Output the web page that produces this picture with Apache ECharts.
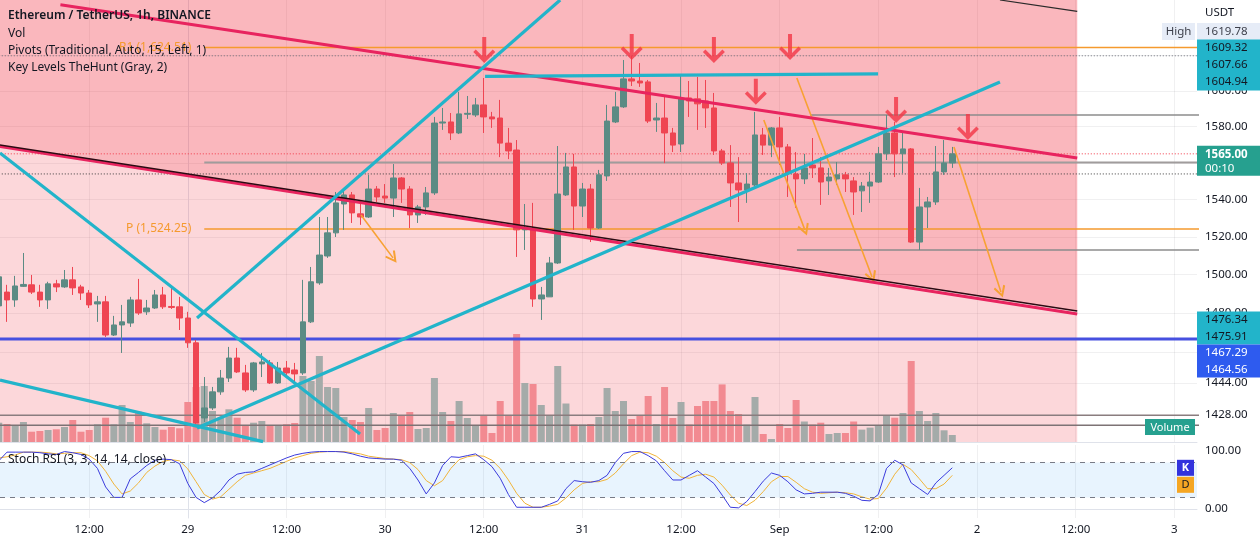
<!DOCTYPE html>
<html><head><meta charset="utf-8">
<script src="https://cdn.jsdelivr.net/npm/echarts@6/dist/echarts.min.js"></script>
<style>html,body{margin:0;padding:0;background:#fff}#c{width:1260px;height:543px}</style>
</head><body><div id="c"></div>
<script>
// ---------- DATA (hours counted from Aug 29 00:00; first candle = Aug 28 01:00) ----------
const firstHour = -23;
const opens = [1483.7,1490.9,1486.8,1493.9,1494.7,1490.9,1486.8,1495.2,1493.6,1497.3,
1493.6,1490.4,1484.7,1485.8,1468.6,1473.8,1474.8,1486.8,1480.6,1482.6,
1489.4,1483.4,1483.2,1477.4,1464.6,1426.5,1431.5,1439.6,1446.6,1456.8,
1449.2,1440.6,1453.8,1454.3,1444.1,1451.7,1450.7,1449.2,1475.4,1495.7,
1509.9,1522.2,1537.7,1542.6,1532.4,1530.7,1545.8,1542.0,1540.9,1551.8,
1545.8,1531.8,1536.1,1543.7,1582.0,1582.6,1576.5,1586.9,1586.5,1592.1,
1585.4,1584.8,1570.9,1567.1,1523.8,1524.3,1487.3,1488.4,1506.2,1542.6,
1557.8,1536.6,1545.8,1524.8,1552.9,1582.6,1591.0,1606.7,1605.5,1605.0,
1583.7,1584.8,1576.5,1570.4,1596.0,1595.5,1594.3,1590.4,1566.6,1560.0,
1549.1,1545.3,1548.0,1575.4,1569.8,1579.3,1568.8,1554.0,1551.3,1558.9,
1557.3,1550.2,1551.3,1553.5,1550.2,1544.8,1547.4,1549.6,1565.0,1576.5,
1565.0,1567.7,1517.3,1536.1,1538.8,1555.1,1560.0];
const closes = [1498.9,1486.8,1494.1,1494.9,1490.9,1486.8,1495.2,1493.6,1497.3,1493.1,
1490.4,1484.2,1485.8,1468.6,1473.8,1475.4,1486.8,1480.0,1482.6,1489.4,
1483.2,1482.9,1477.4,1464.6,1424.0,1431.5,1439.6,1446.6,1456.8,1449.7,
1440.6,1454.3,1454.8,1444.1,1451.7,1449.2,1448.7,1475.4,1496.3,1510.4,
1522.2,1538.3,1542.6,1532.9,1530.7,1545.8,1541.5,1540.9,1551.8,1545.8,
1531.8,1536.1,1543.7,1582.0,1582.6,1576.5,1587.1,1587.4,1592.1,1585.4,
1584.3,1570.9,1566.6,1523.8,1524.3,1487.3,1489.4,1506.2,1543.1,1557.8,
1536.6,1545.8,1524.8,1553.5,1583.1,1591.0,1606.7,1605.5,1604.4,1583.1,
1584.8,1576.5,1569.8,1595.5,1594.3,1592.7,1590.4,1566.6,1560.0,1549.1,
1545.3,1548.5,1575.4,1569.8,1579.3,1568.8,1554.5,1551.3,1557.3,1557.3,
1549.6,1552.3,1553.5,1551.3,1544.2,1547.4,1549.6,1565.0,1576.5,1565.0,
1567.7,1517.3,1536.1,1538.8,1555.1,1560.0,1565.0];
const highs = [1499.9,1494.7,1499.4,1511.5,1499.9,1494.7,1496.3,1497.3,1502.5,1504.1,
1494.7,1492.0,1488.9,1488.9,1478.5,1484.2,1488.4,1497.8,1486.8,1492.0,
1493.6,1493.1,1488.4,1480.6,1466.1,1447.1,1442.1,1450.7,1462.5,1462.0,
1453.3,1454.8,1459.4,1455.8,1454.8,1455.3,1454.3,1497.3,1504.1,1530.7,
1530.7,1544.2,1545.3,1544.2,1538.3,1553.5,1547.4,1548.5,1559.4,1552.3,
1547.4,1537.2,1546.9,1585.4,1590.4,1587.6,1599.4,1597.1,1596.0,1607.2,
1588.2,1594.9,1579.3,1572.6,1537.7,1538.3,1493.6,1509.4,1569.3,1565.5,
1565.0,1549.1,1548.5,1556.2,1592.1,1599.4,1617.4,1619.78,1615.7,1606.1,
1593.2,1596.6,1579.3,1608.9,1605.5,1607.8,1606.1,1598.8,1567.7,1569.8,
1563.2,1554.5,1588.2,1579.3,1579.8,1585.4,1570.4,1566.0,1565.0,1573.7,
1563.2,1557.3,1560.5,1555.1,1552.3,1549.6,1555.1,1568.8,1586.5,1582.6,
1577.1,1568.2,1546.4,1541.5,1569.3,1572.6,1568.8];
const lows = [1482.6,1475.4,1483.2,1493.6,1489.9,1483.2,1482.1,1490.9,1493.1,1489.4,
1486.8,1482.6,1475.4,1467.6,1468.1,1459.4,1472.8,1479.0,1479.0,1482.1,
1482.1,1482.1,1471.2,1462.0,1422.0,1424.5,1430.5,1438.1,1444.6,1449.2,
1439.6,1439.6,1447.1,1443.6,1443.6,1447.1,1444.1,1448.2,1474.8,1494.7,
1508.9,1520.0,1523.8,1527.5,1526.5,1530.2,1538.8,1538.3,1530.7,1538.3,
1524.8,1527.5,1531.8,1542.6,1578.2,1572.6,1575.9,1584.3,1585.4,1576.5,
1579.3,1563.2,1562.1,1509.4,1513.1,1483.2,1476.4,1488.4,1505.7,1542.0,
1523.8,1530.7,1517.3,1524.3,1550.2,1582.0,1590.4,1602.7,1602.2,1582.0,
1577.1,1559.9,1566.0,1566.0,1585.4,1578.2,1579.3,1564.4,1558.9,1536.1,
1528.0,1538.3,1547.4,1564.4,1563.2,1558.9,1541.5,1535.6,1548.5,1551.8,
1537.2,1542.6,1548.0,1544.2,1531.8,1533.4,1538.3,1549.1,1561.6,1552.3,
1554.5,1516.8,1513.1,1524.8,1537.2,1553.5,1557.3];
const volumes = [1.93,1.8,1.6,2.0,1.03,1.1,1.2,1.27,1.5,2.2,
1.03,1.2,1.77,2.43,1.77,3.7,2.0,3.03,1.87,1.5,
1.23,1.5,1.37,4.0,5.5,5.6,3.1,2.43,3.27,2.43,
1.7,1.93,2.1,1.6,1.6,1.77,1.9,6.6,6.1,8.6,
5.5,5.4,2.5,2.2,2.0,3.4,1.2,1.4,2.9,2.6,
3.0,1.3,1.4,6.4,3.0,2.1,4.1,2.4,1.6,2.7,
0.9,4.1,2.6,10.8,5.9,5.8,3.7,2.7,7.6,3.85,
1.74,1.74,1.8,2.5,5.4,3.1,4.1,2.3,2.6,4.6,
1.8,5.5,2.4,4.0,1.74,3.6,4.1,4.1,5.76,3.1,
2.8,1.74,4.5,0.8,0.3,1.8,1.4,4.2,2.05,1.74,
1.93,0.8,0.9,0.9,2.05,1.24,1.44,1.7,2.7,2.43,
2.9,8.1,3.1,2.1,2.9,1.17,0.7];
const stochK = [83,98,98,98,98,97,95,94,99,97,
94,86,70,38,20,20,52,63,75,84,
86,85,78,44,20,11,19,32,50,60,
63,64,70,76,82,88,93,96,98,99,
99,99,98,95,91,88,87,86,86,84,
70,50,26,45,75,90,89,92,95,85,
73,53,25,3,3,3,3,8,14,35,
49,47,46,49,58,80,96,99,99,92,
83,66,50,50,58,66,55,44,24,3,
2,13,30,48,62,58,47,33,26,27,
29,29,29,27,22,15,14,25,70,84,
76,45,35,25,45,58,71];
const stochD = [88,90,93,98,98,98,97,95,96,97,
97,92,83,65,43,26,31,45,63,74,
82,85,83,69,47,25,17,21,34,47,
58,62,66,70,76,82,88,92,96,98,
99,99,99,97,95,91,89,87,86,85,
80,68,49,40,49,70,85,90,92,91,
84,70,50,27,10,3,3,5,8,19,
33,44,47,47,51,62,78,92,98,97,
91,80,66,55,53,58,60,55,41,24,
10,6,15,30,47,56,56,46,35,29,
27,28,29,28,26,21,17,18,36,60,
77,68,52,35,35,43,58];

// time axis ticks
const tickHours  = [-12, 0, 12, 24, 36, 48, 60, 72, 84, 96, 108, 120];
const tickLabels = ['12:00','29','12:00','30','12:00','31','12:00','Sep','12:00','2','12:00','3'];
// price axis ticks
const priceTicks = [1428, 1444, 1460, 1480, 1500, 1520, 1540, 1560, 1580, 1600, 1620];

// horizontal levels: price and start hour
const levelPrices = [1624.51, 1619.78, 1586.5, 1565.0, 1560.2, 1554.0, 1524.25, 1513.1, 1466.6, 1427.9, 1422.9];
const levelStarts = [2, -23, 75.7, -23, 2, -23, 2, 74.1, -23, -23, -23];

// drawings: [hour, price] pairs
const upperRedLine = [[-15.5, 1649.1], [108.2, 1562.7]];
const lowerPinkLine = [[-23, 1569.2], [108.2, 1479.5]];
const lowerDarkLine = [[-23, 1570.0], [108.2, 1481.0]];
const topRightLine = [[98.8, 1651.8], [108.2, 1645.2]];
const cyanLines = [
  [[1.12, 1477.4], [45.3, 1651.8]],
  [[1.12, 1421.5], [98.8, 1605.0]],
  [[-22.85, 1565.5], [20.95, 1418.5]],
  [[-22.85, 1445.6], [9.15, 1414.7]],
  [[36.16, 1608.1], [83.97, 1609.5]]
];
const orangeArrows = [
  [[21.07, 1531.8], [24.96, 1508.9]],
  [[70.07, 1583.7], [75.06, 1523.8]],
  [[74.09, 1607.2], [83.24, 1498.8]],
  [[93.2, 1568.8], [98.92, 1491.0]]
];
const redArrows = [[36.06, 1623.1], [54.0, 1624.8], [64.0, 1623.1], [73.26, 1624.8], [69.1, 1599.4], [86.16, 1589.3], [94.9, 1579.8]];
// shaded zones (polygons in hour/price)
const zoneRect = [[-23, 1400], [108.2, 1400], [108.2, 1700], [-23, 1700]];
const zoneChannel = [[-23, 1700], [108.2, 1700], [108.2, 1481.0], [-23, 1570.0]];

// ---------- STYLE / LAYOUT ----------
const X_MIN = -22.85, X_MAX = 122.77;
const P_MIN = 1414.5, P_MAX = 1651.8;
const FONT = '"Noto Sans", "DejaVu Sans", sans-serif';
const UP = '#5b8b84', DOWN = '#ef4552';
const VOL_UP = '#a4aba9', VOL_DOWN = '#f28a91';
const CYAN = '#22b4ca';
const levelStyles = [
  {color:'#f59a2e', width:1.5, type:'solid'},
  {color:'#6a6d78', width:1, type:[1,2]},
  {color:'#8d8d8d', width:1.5, type:'solid'},
  {color:'#f23645', width:1, type:[1,2]},
  {color:'#a09c9c', width:2, type:'solid'},
  {color:'#3a3a3a', width:1, type:[1,2]},
  {color:'#f59a2e', width:1.5, type:'solid'},
  {color:'#8d8d8d', width:1.5, type:'solid'},
  {color:'#4650e0', width:3, type:'solid'},
  {color:'#8a7d7f', width:1.5, type:'solid'},
  {color:'#7d7375', width:1.5, type:'solid'}
];

const hours = opens.map((_, i) => firstHour + i);
const zones = [zoneRect, zoneChannel];

function seg(points, color, width, z, type) {
  return {type:'line', xAxisIndex:0, yAxisIndex:0, data:points, symbol:'none', silent:true, z:z,
    lineStyle:{color:color, width:width, type:type||'solid'}, clip:true};
}

const series = [];
series.push({
  type:'custom', xAxisIndex:0, yAxisIndex:0, z:1, silent:true,
  data: zones.map(z => [z.reduce((s,p)=>s+p[0],0)/z.length, z.reduce((s,p)=>s+p[1],0)/z.length]),
  encode:{x:0, y:1},
  renderItem: function(params, api) {
    const poly = zones[params.dataIndex].map(p => api.coord(p));
    const cs = params.coordSys;
    return {type:'polygon', shape:{points:poly}, style:{fill:'rgba(242,54,69,0.2)'},
      clipPath:{type:'rect', shape:{x:cs.x, y:cs.y, width:cs.width, height:cs.height}}};
  }
});
series.push({
  type:'bar', name:'Vol', xAxisIndex:1, yAxisIndex:1, z:2, barWidth:7, silent:true,
  data: hours.map((h,i) => ({value:[h, volumes[i]], itemStyle:{color: closes[i] >= opens[i] ? VOL_UP : VOL_DOWN}}))
});
levelPrices.forEach((p, i) => {
  const st = levelStyles[i];
  series.push(seg([[levelStarts[i], p], [X_MAX + 1, p]], st.color, st.width, 3, st.type));
});
series.push({
  type:'candlestick', xAxisIndex:0, yAxisIndex:0, z:4, barWidth:6, silent:true,
  data: hours.map((h,i) => [h, opens[i], closes[i], lows[i], highs[i]]),
  encode:{x:0, y:[1,2,3,4]},
  itemStyle:{color:UP, color0:DOWN, borderColor:UP, borderColor0:DOWN, borderWidth:1}
});
series.push(seg(lowerPinkLine, '#e8245f', 3, 5));
series.push(seg(lowerDarkLine, '#2a0a12', 1.5, 5));
series.push(seg(upperRedLine, '#e8245f', 3, 5));
series.push(seg(topRightLine, '#2a2a2a', 1.2, 5));
cyanLines.forEach(l => series.push(seg(l, CYAN, 3.2, 5)));
series.push({
  type:'line', xAxisIndex:0, yAxisIndex:0, data:[], z:6, silent:true,
  markLine:{
    silent:true, animation:false,
    symbol:['none', 'path://M5,0 L10,9 L8.6,10 L5,3.4 L1.4,10 L0,9 Z'], symbolSize:12,
    label:{show:false},
    lineStyle:{color:'#f7a133', width:1.6, type:'solid'},
    data: orangeArrows.map(a => [{coord:a[0]}, {coord:a[1]}])
  }
});
series.push({
  type:'scatter', xAxisIndex:0, yAxisIndex:0, z:7, silent:true,
  symbol:'path://M9,0 H13 V19 L19.5,12.5 L22,15 L11,26 L0,15 L2.5,12.5 L9,19 Z',
  symbolSize:[22,26], itemStyle:{color:'#f23645'},
  data: redArrows
});
series.push({
  type:'line', name:'K', xAxisIndex:2, yAxisIndex:2, symbol:'none', z:3, silent:true,
  data: hours.map((h,i) => [h, stochK[i]]),
  lineStyle:{color:'#3b3bdc', width:1},
  markArea:{silent:true, itemStyle:{color:'rgba(33,150,243,0.1)'}, data:[[{yAxis:20},{yAxis:80}]]},
  markLine:{silent:true, symbol:'none', label:{show:false}, lineStyle:{color:'#787b86', type:[5,5], width:1},
    data:[{yAxis:80},{yAxis:20}]}
});
series.push({
  type:'line', name:'D', xAxisIndex:2, yAxisIndex:2, symbol:'none', z:2, silent:true,
  data: hours.map((h,i) => [h, stochD[i]]),
  lineStyle:{color:'#f0b43a', width:1}
});

const gridLine = {show:true, lineStyle:{color:'rgba(42,46,57,0.07)', width:1}};
const option = {
  animation:false,
  textStyle:{fontFamily:FONT},
  grid:[
    {left:0, right:63, top:0, height:442},
    {left:0, right:63, top:242, height:200},
    {left:0, right:63, top:445, height:73}
  ],
  xAxis:[
    {gridIndex:0, type:'value', min:X_MIN, max:X_MAX,
      axisLine:{show:true, lineStyle:{color:'#dfe2ea'}},
      axisTick:{show:false, customValues:tickHours}, axisLabel:{show:false, customValues:tickHours}, splitLine:gridLine},
    {gridIndex:1, type:'value', min:X_MIN, max:X_MAX, show:false, splitLine:{show:false}},
    {gridIndex:2, type:'value', min:X_MIN, max:X_MAX,
      axisLine:{show:true, lineStyle:{color:'#dfe2ea'}},
      axisTick:{show:false, customValues:tickHours},
      axisLabel:{customValues:tickHours, margin:6, color:'#131722', fontSize:11.5, fontFamily:FONT,
        formatter: v => { const k = tickHours.indexOf(Math.round(v)); return k >= 0 ? tickLabels[k] : ''; }},
      splitLine:gridLine}
  ],
  yAxis:[
    {gridIndex:0, type:'log', min:P_MIN, max:P_MAX, position:'right',
      axisLine:{show:true, lineStyle:{color:'#dfe2ea'}},
      axisTick:{show:false, customValues:priceTicks},
      axisLabel:{customValues:priceTicks, margin:8, color:'#131722', fontSize:11.5, fontFamily:FONT,
        formatter: v => Number(v).toFixed(2)},
      splitLine:gridLine},
    {gridIndex:1, type:'value', min:0, max:20, show:false, splitLine:{show:false}},
    {gridIndex:2, type:'value', min:-15.5, max:110.3, position:'right',
      axisLine:{show:true, lineStyle:{color:'#dfe2ea'}},
      axisTick:{show:false, customValues:[0,100]},
      axisLabel:{customValues:[0,100], margin:8, color:'#131722', fontSize:11.5, fontFamily:FONT,
        formatter: v => Number(v).toFixed(2)},
      splitLine:{show:false}}
  ],
  series: series
};

const chart = echarts.init(document.getElementById('c'), null, {renderer:'canvas', width:1260, height:543});
chart.setOption(option);

// ---------- price-scale tags, legends (positions from the chart's own scales) ----------
const py = p => chart.convertToPixel({yAxisIndex:0}, p);
const px = h => chart.convertToPixel({xAxisIndex:0}, h);
const ky = v => chart.convertToPixel({yAxisIndex:2}, v);
const F = (size, w) => (w ? w + ' ' : '') + size + 'px ' + FONT;
const g = [];
const AX = 1197, TX = 1205;
function rect(x, y, w, h, fill) { g.push({type:'rect', shape:{x, y, width:w, height:h}, style:{fill}, z:100}); }
function text(x, y, t, fill, font, align) { g.push({type:'text', x, y, style:{text:t, fill, font, align:align||'left', verticalAlign:'middle'}, z:101}); }

// cyan stack near top
const yC3 = py(1604.94), yC2 = yC3 - 17, yC1 = yC3 - 34, yHigh = yC1 - 16.5;
rect(AX, yHigh - 8.5, 63, 17, '#e6ecf7');
text(TX, yHigh, '1619.78', '#3c3f4a', F(11.5));
rect(1162, yHigh - 8.5, 33, 17, '#e6ecf7');
text(1178.5, yHigh, 'High', '#3c3f4a', F(11.5), 'center');
rect(AX, yC1 - 8.5, 63, 51, CYAN);
text(TX, yC1, '1609.32', '#131722', F(11.5));
text(TX, yC2, '1607.66', '#131722', F(11.5));
text(TX, yC3, '1604.94', '#131722', F(11.5));
// current price
const yP = py(1565.0);
rect(AX, yP - 8, 63, 30, '#26a08f');
text(TX, yP + 0.5, '1565.00', '#ffffff', F(11.5, 'bold'));
text(TX, yP + 14.5, '00:10', '#ffffff', F(11.5));
// lower stack
const yL1 = py(1476.34);
rect(AX, yL1 - 8.5, 63, 33, CYAN);
text(TX, yL1, '1476.34', '#131722', F(11.5));
text(TX, yL1 + 16.5, '1475.91', '#131722', F(11.5));
rect(AX, yL1 + 24.5, 63, 33, '#2e5bef');
text(TX, yL1 + 33, '1467.29', '#ffffff', F(11.5));
text(TX, yL1 + 49.5, '1464.56', '#ffffff', F(11.5));
// Volume tag
rect(1145, 419, 50, 16, '#26a08f');
text(1170, 427.5, 'Volume', '#ffffff', F(11), 'center');
// Stoch K / D tags
const yK = ky(stochK[stochK.length - 1]);
rect(1177, yK - 8, 17, 16, '#3333dd');
text(1185.5, yK, 'K', '#ffffff', F(11, 'bold'), 'center');
rect(1177, yK + 9, 17, 16, '#f5a623');
text(1185.5, yK + 17, 'D', '#131722', F(11), 'center');
// USDT
text(TX, 13, 'USDT', '#131722', F(11.5));
// Pivot labels
text(px(2) - 13, py(1624.51), 'R1 (1,624.51)', '#f59a2e', F(12), 'right');
text(px(2) - 13, py(1524.25), 'P (1,524.25)', '#f59a2e', F(12), 'right');
// Legends
text(8, 16, 'Ethereum / TetherUS, 1h, BINANCE', '#131722', F(12, '600'));
text(8, 34, 'Vol', '#131722', F(12));
text(8, 51, 'Pivots (Traditional, Auto, 15, Left, 1)', '#131722', F(12));
text(8, 68, 'Key Levels TheHunt (Gray, 2)', '#131722', F(12));
text(8, 460, 'Stoch RSI (3, 3, 14, 14, close)', '#131722', F(12));

chart.setOption({graphic:{elements:g}});
</script>
</body></html>
